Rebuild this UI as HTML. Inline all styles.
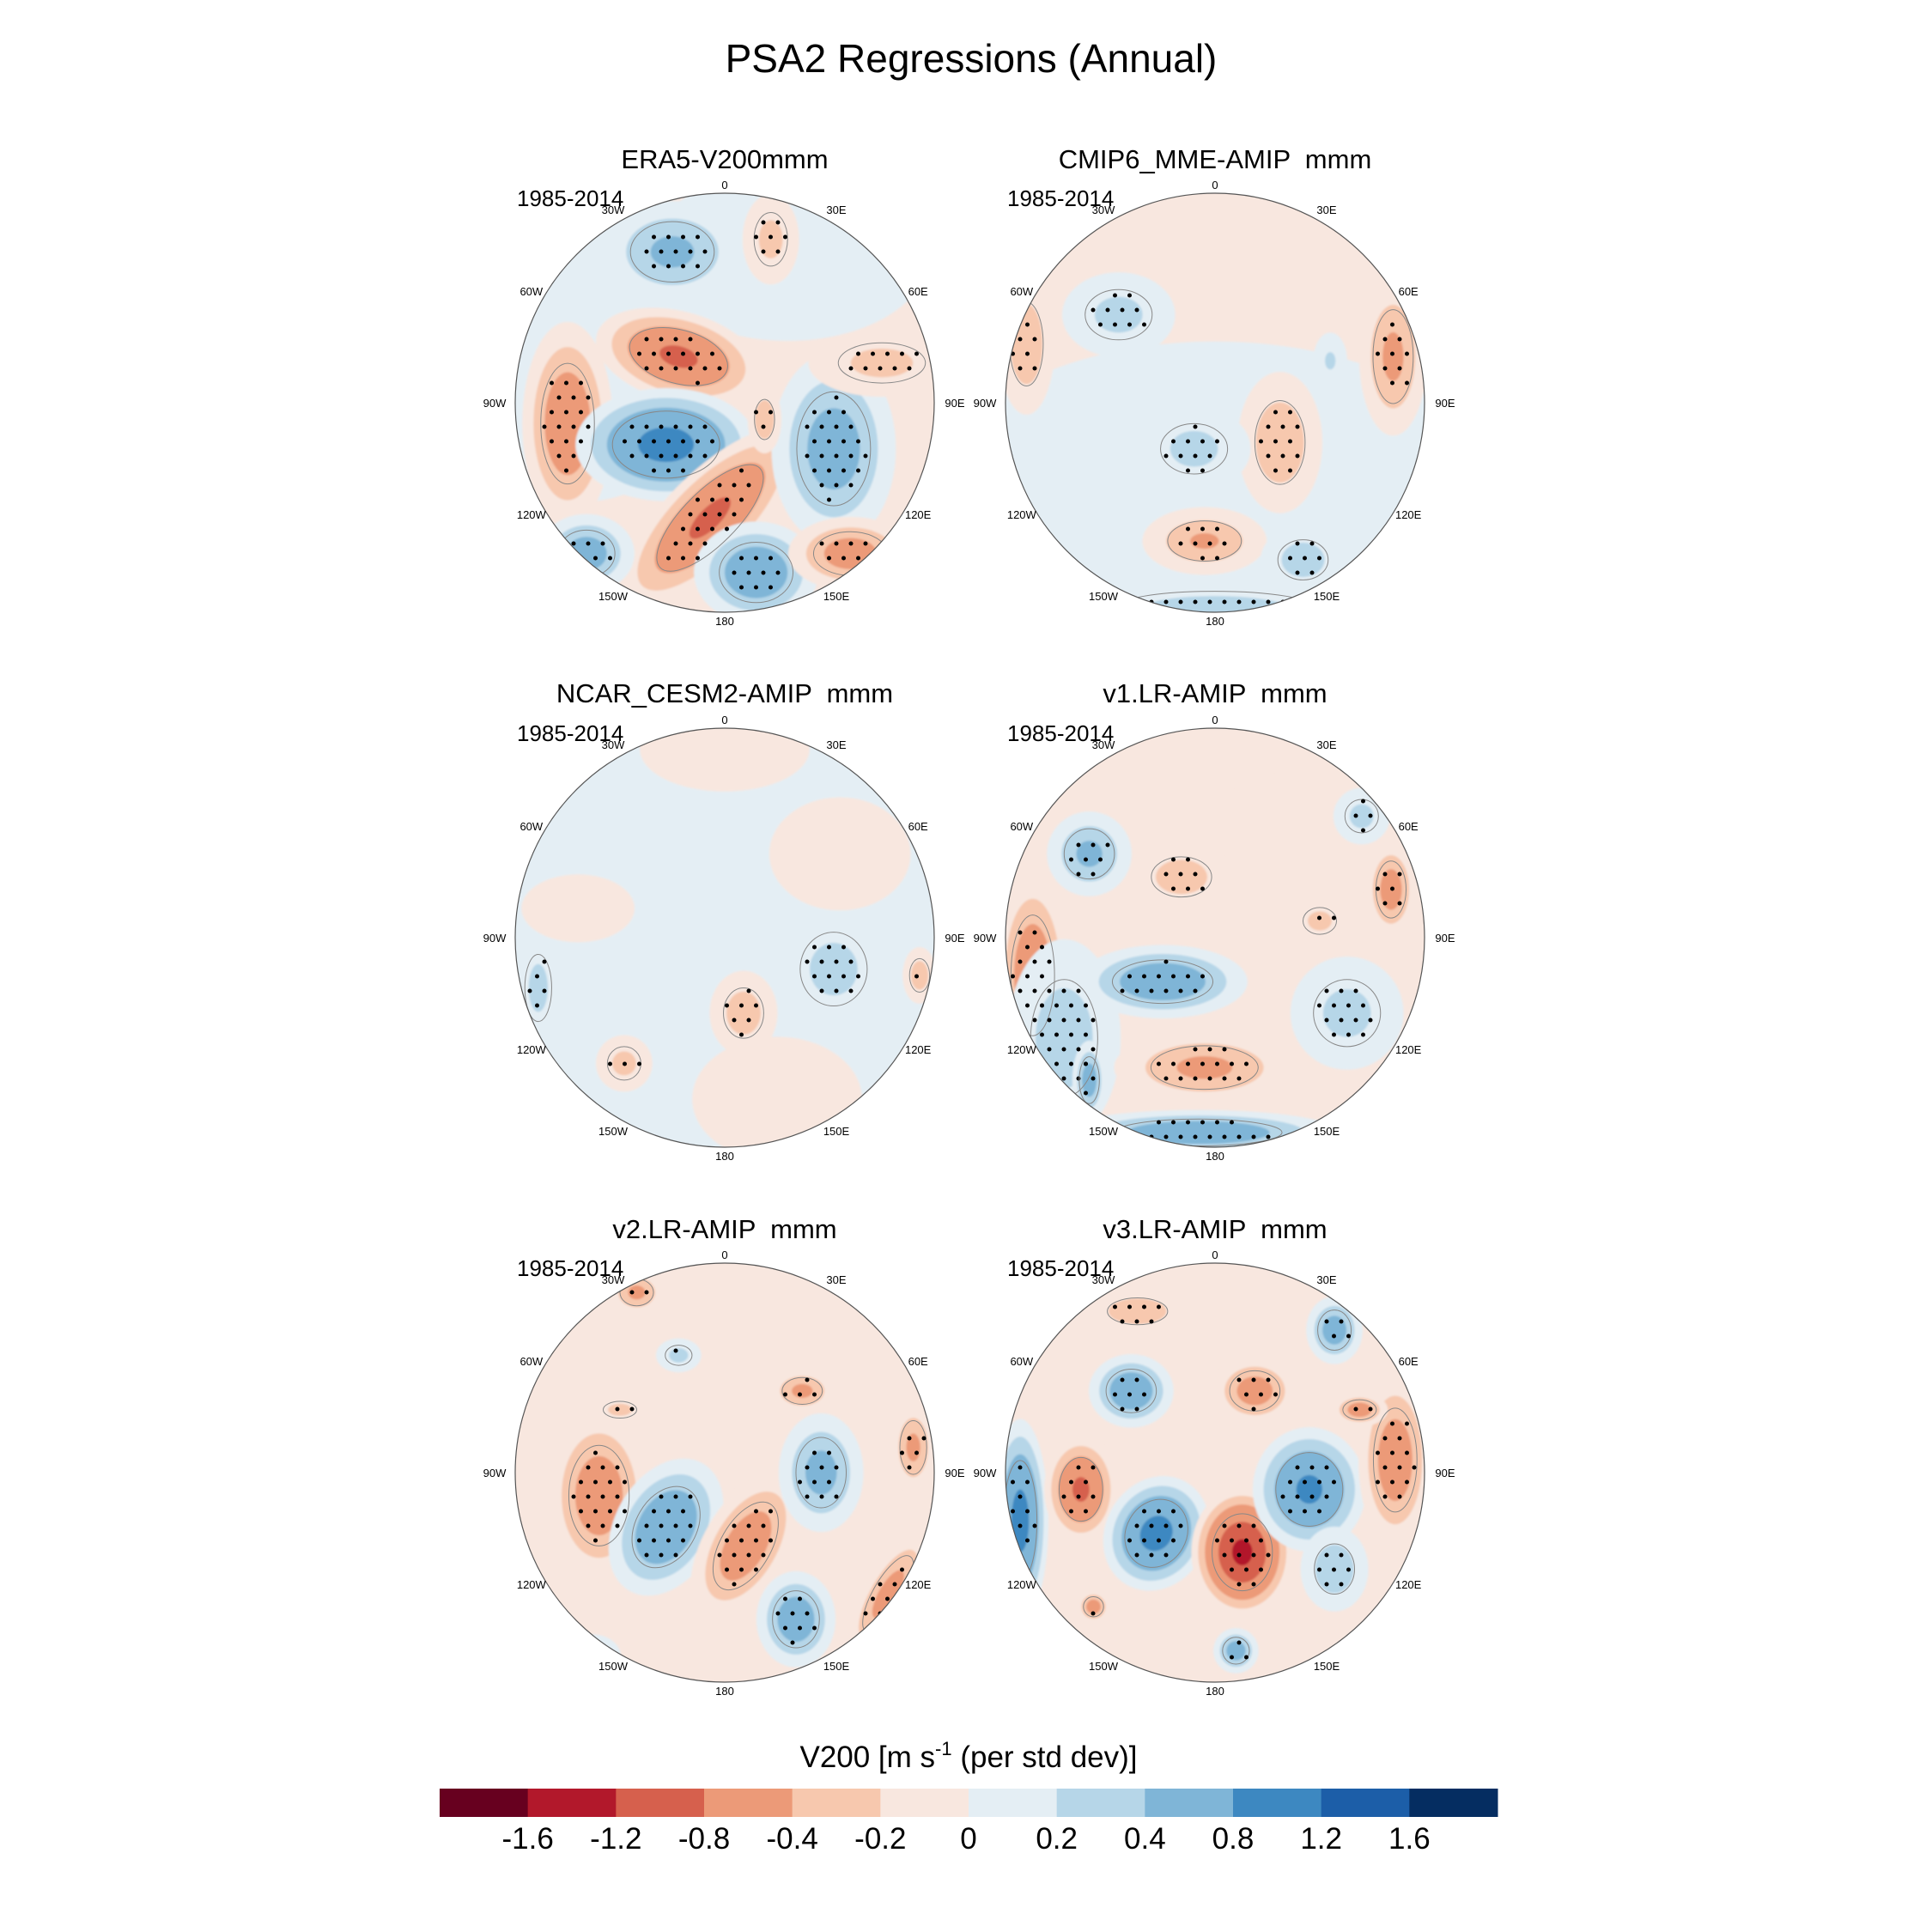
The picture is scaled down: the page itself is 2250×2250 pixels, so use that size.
<!DOCTYPE html>
<html><head><meta charset="utf-8"><style>
body{margin:0;background:#fff}
svg{display:block}
text{font-family:"Liberation Sans",sans-serif;white-space:pre}
</style></head><body>
<svg id="fig" width="2250" height="2250" viewBox="0 0 2250 2250">
<defs><filter id="soft" x="-10%" y="-10%" width="120%" height="120%"><feGaussianBlur stdDeviation="1"/></filter></defs>
<text x="1131" y="84" font-size="46" text-anchor="middle">PSA2 Regressions (Annual)</text>
<g id="panels"></g>
<text x="1128" y="2058" font-size="35" text-anchor="middle">V200 [m s<tspan dy="-14" font-size="22">-1</tspan><tspan dy="14"> (per std dev)]</tspan></text>
<g id="cbar"></g>
</svg>
<script>
const NS="http://www.w3.org/2000/svg";
const levels=[-1.6,-1.2,-0.8,-0.4,-0.2,0,0.2,0.4,0.8,1.2,1.6];
const levelLabels=["-1.6","-1.2","-0.8","-0.4","-0.2","0","0.2","0.4","0.8","1.2","1.6"];
const colors=["#67001f","#b2182b","#d6604d","#ec9a78","#f7c8ae","#f8e7df","#e4eef4","#b6d6e8","#7fb5d7","#3d88c1","#1c5ea8","#052d61"];
const panelTitles=["ERA5-V200mmm","CMIP6_MME-AMIP  mmm","NCAR_CESM2-AMIP  mmm","v1.LR-AMIP  mmm","v2.LR-AMIP  mmm","v3.LR-AMIP  mmm"];
const lonLabels=["0","30E","60E","90E","120E","150E","180","150W","120W","90W","60W","30W"];
// blobs: [x, y, rx, ry, rotation, value] in units of map radius
const blobsP1=[[-0.7,-0.2,0.5,0.5,0,0.15],[0.3,-0.7,0.5,0.3,0,0.12],[-0.25,-0.72,0.25,0.18,0,0.5],[-0.22,-0.22,0.3,0.16,15,-0.9],[-0.75,0.1,0.16,0.36,0,-0.7],[-0.28,0.2,0.32,0.2,0,1.0],[-0.07,0.55,0.42,0.16,-45,-0.9],[0.52,0.22,0.22,0.34,0,0.6],[0.15,0.81,0.22,0.18,0,0.7],[-0.66,0.72,0.17,0.14,0,0.6],[0.6,0.72,0.22,0.13,0,-0.6],[0.75,-0.19,0.26,0.12,0,-0.3],[0.22,-0.78,0.1,0.16,0,-0.3],[0.19,0.08,0.06,0.12,0,-0.4]];
const blobsP2=[[0,0.45,1.0,0.55,0,0.15],[-0.46,-0.42,0.2,0.15,0,0.3],[0.85,-0.22,0.12,0.28,0,-0.5],[-0.9,-0.28,0.1,0.25,0,-0.4],[0.31,0.19,0.15,0.25,0,-0.4],[-0.1,0.22,0.2,0.15,0,0.3],[-0.05,0.66,0.22,0.12,0,-0.45],[0.42,0.75,0.15,0.12,0,0.35],[0,0.98,0.6,0.1,0,0.3],[0.55,-0.2,0.06,0.1,0,0.25]];
const blobsP3=[[0,0,1.1,1.1,0,0.12],[0.52,0.15,0.2,0.22,0,0.3],[0.09,0.36,0.12,0.15,0,-0.35],[-0.48,0.6,0.1,0.1,0,-0.3],[-0.89,0.24,0.08,0.2,0,0.3],[0.55,-0.4,0.25,0.2,0,-0.15],[-0.7,-0.14,0.2,0.12,0,-0.15],[0.25,0.77,0.3,0.22,0,-0.15],[0.66,0.88,0.1,0.06,0,-0.3],[0.93,0.18,0.06,0.1,0,-0.35],[0,-0.9,0.3,0.15,0,-0.15]];
const blobsP4=[[-0.6,-0.4,0.15,0.15,0,0.5],[-0.87,0.18,0.13,0.36,0,-0.7],[-0.72,0.48,0.2,0.35,0,0.35],[-0.25,0.21,0.3,0.13,0,0.7],[-0.05,0.62,0.32,0.13,0,-0.5],[-0.08,0.93,0.5,0.08,0,0.7],[-0.6,0.68,0.06,0.14,0,0.6],[0.84,-0.23,0.09,0.17,0,-0.6],[-0.16,-0.29,0.18,0.12,0,-0.35],[0.5,-0.08,0.1,0.08,0,-0.3],[0.7,-0.58,0.1,0.1,0,0.3],[0.63,0.36,0.2,0.2,0,0.3],[0.28,-0.64,0.15,0.1,0,-0.2]];
const blobsP5=[[-0.6,0.11,0.18,0.3,0,-0.65],[-0.28,0.26,0.18,0.26,30,0.75],[0.1,0.35,0.15,0.29,30,-0.65],[0.46,0,0.15,0.21,0,0.55],[0.34,0.7,0.14,0.17,0,0.65],[0.78,0.58,0.09,0.26,30,-0.55],[0.9,-0.12,0.08,0.16,0,-0.5],[0.37,-0.39,0.12,0.08,0,-0.5],[-0.42,-0.86,0.1,0.08,0,-0.5],[-0.63,0.88,0.1,0.08,0,0.5],[-0.22,-0.56,0.08,0.06,0,0.3],[-0.5,-0.3,0.1,0.05,0,-0.3]];
const blobsP6=[[-0.93,0.23,0.1,0.36,0,1.0],[-0.64,0.08,0.13,0.19,0,-0.9],[-0.28,0.29,0.18,0.21,30,1.0],[0.13,0.38,0.18,0.23,0,-1.3],[0.45,0.08,0.2,0.22,0,0.9],[0.86,-0.06,0.13,0.31,0,-0.65],[-0.4,-0.39,0.15,0.13,0,0.7],[0.19,-0.39,0.15,0.12,0,-0.6],[0.57,-0.68,0.1,0.12,0,0.6],[0.69,-0.3,0.1,0.06,0,-0.6],[0.1,0.85,0.08,0.08,0,0.6],[-0.58,0.64,0.06,0.06,0,-0.6],[-0.37,-0.77,0.18,0.08,0,-0.4],[0.57,0.46,0.12,0.15,0,0.4]];
const allBlobs=[blobsP1,blobsP2,blobsP3,blobsP4,blobsP5,blobsP6];
const colX=[844,1415], rowY=[469,1092,1715], R=244;
const titleY=[196,818,1442], yearY=[240,863,1486];

function colorFor(v){let i=0;while(i<levels.length&&v>levels[i])i++;return colors[i];}
function mk(tag,attrs,parent){const e=document.createElementNS(NS,tag);for(const k in attrs)e.setAttribute(k,attrs[k]);parent.appendChild(e);return e;}

const root=document.getElementById('panels');
allBlobs.forEach((blobs,p)=>{
  const cx=colX[p%2], cy=rowY[Math.floor(p/2)];
  const g=mk('g',{},root);
  
  
  const clipId='clip'+p;
  const cp=mk('clipPath',{id:clipId},g);
  mk('circle',{cx:cx,cy:cy,r:R},cp);
  const cg=mk('g',{'clip-path':'url(#'+clipId+')'},g);
  mk('circle',{cx:cx,cy:cy,r:R,fill:colorFor(-0.1)},cg);
  const fg=mk('g',{filter:'url(#soft)'},cg);
  const og=mk('g',{},cg);
  const thresholds=[0,0.2,0.4,0.8,1.2,1.6];
  blobs.forEach(b=>{
    const [bx,by,rx,ry,rot,v]=b;
    const av=Math.abs(v), sg=Math.sign(v);
    thresholds.forEach(t=>{
      if(t<av){
        const f=t/av, s=1.35*(1-f)+0.18*f;
        const e=mk('ellipse',{cx:cx+bx*R,cy:cy+by*R,rx:rx*R*s,ry:ry*R*s,fill:colorFor(sg*(t+0.01)),transform:`rotate(${rot} ${cx+bx*R} ${cy+by*R})`},fg);
        
        
      }
    });
    if(av>=0.3){
      const s=0.8, X=cx+bx*R, Y=cy+by*R, a=rot*Math.PI/180;
      mk('ellipse',{cx:X,cy:Y,rx:rx*R*s,ry:ry*R*s,fill:'none',stroke:'#888','stroke-width':1,transform:`rotate(${rot} ${X} ${Y})`},og);
      const step=17;
      for(let yy=-R;yy<=R;yy+=step){for(let xx=-R;xx<=R;xx+=step){
        const px=cx+xx+((Math.round(yy/step))%2?step/2:0), py=cy+yy;
        const dx=px-X, dy=py-Y;
        const u=(dx*Math.cos(a)+dy*Math.sin(a))/(rx*R*s*0.92), w=(-dx*Math.sin(a)+dy*Math.cos(a))/(ry*R*s*0.92);
        if(u*u+w*w<=1){
          const d=mk('circle',{cx:px,cy:py,r:2.5,fill:'#000'},og);
          
          
        }
      }}
    }
  });
  const border=mk('circle',{cx:cx,cy:cy,r:R,fill:'none',stroke:'#555','stroke-width':1.2},g);
  
  
  lonLabels.forEach((lab,i)=>{
    const ang=i*30*Math.PI/180;
    let d=16; if(i===0||i===6)d=10; if(i===3||i===9)d=24;
    let x=cx+(R+d)*Math.sin(ang), y=cy-(R+d)*Math.cos(ang)+5;
    const t=mk('text',{x:x,y:y,'font-size':13,'text-anchor':'middle'},g);
    t.textContent=lab;
    
    
  });
  const tt=mk('text',{x:cx,y:titleY[Math.floor(p/2)],'font-size':31,'text-anchor':'middle'},g);
  tt.textContent=panelTitles[p];
  
  
  const yt=mk('text',{x:cx-242,y:yearY[Math.floor(p/2)],'font-size':26},g);
  yt.textContent='1985-2014';
  
  
});

const cb=document.getElementById('cbar');
const x0=512,x1=1744,bw=(x1-x0)/colors.length;
colors.forEach((c,i)=>{
  const r=mk('rect',{x:x0+i*bw,y:2083,width:bw+0.5,height:33,fill:c},cb);
  
  
});
levelLabels.forEach((l,i)=>{
  const t=mk('text',{x:x0+(i+1)*bw,y:2153,'font-size':35,'text-anchor':'middle'},cb);
  t.textContent=l;
  
  
});
</script>
</body></html>
